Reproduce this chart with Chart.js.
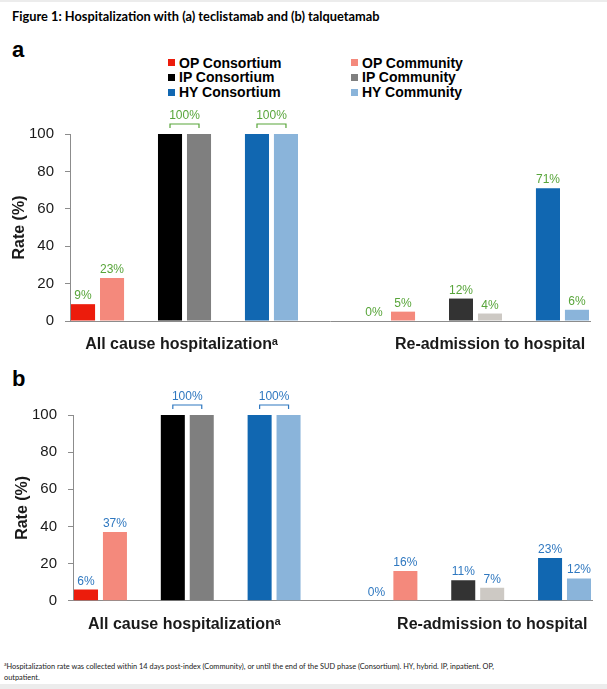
<!DOCTYPE html>
<html>
<head>
<meta charset="utf-8">
<script src="https://cdn.jsdelivr.net/npm/chart.js@4.4.1/dist/chart.umd.min.js"></script>
<style>
  html, body { margin: 0; padding: 0; background: #fff; }
  #page { position: relative; width: 607px; height: 689px; overflow: hidden; font-family: "Liberation Sans", Arial, sans-serif; color: #000; }
  .strip { position: absolute; left: 0; width: 607px; background: #ececec; }
  #title { position: absolute; left: 12px; top: 9px; font: bold 12.8px Lato, sans-serif; line-height: 1.2; white-space: nowrap; }
  .panel { position: absolute; left: 12px; font: bold 22px "Liberation Sans", Arial, sans-serif; line-height: 22px; }
  .item { position: absolute; display: flex; align-items: center; height: 15px; font: bold 14px "Liberation Sans", Arial, sans-serif; white-space: nowrap; }
  .box { width: 7px; height: 7px; margin-right: 4px; }
  .wrap { position: absolute; left: 0; width: 607px; height: 260px; }
  #foot { position: absolute; left: 4px; top: 659px; width: 500px; font: 7.4px Lato, sans-serif; line-height: 11px; color: #222; }
  #foot sup { font-size: 5px; vertical-align: 3px; }
</style>
</head>
<body>
<div id="page">
  <div class="strip" style="top:0;height:2px"></div>
  <div class="strip" style="top:684px;height:5px"></div>
  <div id="title">Figure 1: Hospitalization with (a) teclistamab and (b) talquetamab</div>
  <div class="panel" style="top:39px">a</div>
  <div id="legend"></div>
  <div class="wrap" style="top:96px"><canvas id="chartA"></canvas></div>
  <div class="panel" style="top:368px">b</div>
  <div class="wrap" style="top:377px"><canvas id="chartB"></canvas></div>
  <div id="foot"><sup>a</sup>Hospitalization rate was collected within 14 days post-index (Community), or until the end of the SUD phase (Consortium). HY, hybrid. IP, inpatient. OP, outpatient.</div>
</div>
<script>
// groups on the x axis
const categories = ['All cause hospitalization\u1d43', 'Re-admission to hospital'];
const seriesNames = ['OP Consortium', 'OP Community', 'IP Consortium', 'IP Community', 'HY Consortium', 'HY Community'];
const yTicks = [0, 20, 40, 60, 80, 100];

// (a) teclistamab, values per group (%)
const tecOpConsortium = [9, 0];
const tecOpCommunity = [23, 5];
const tecIpConsortium = [100, 12];
const tecIpCommunity = [100, 4];
const tecHyConsortium = [100, 71];
const tecHyCommunity = [100, 6];

// (b) talquetamab
const talOpConsortium = [6, 0];
const talOpCommunity = [37, 16];
const talIpConsortium = [100, 11];
const talIpCommunity = [100, 7];
const talHyConsortium = [100, 23];
const talHyCommunity = [100, 12];

// colour per series, per group (IP bars are lighter in the second group)
const seriesColors = [
    ['#ec1c0c', '#ec1c0c'],
    ['#f4897c', '#f4897c'],
    ['#000000', '#333333'],
    ['#7f7f7f', '#cdc9c4'],
    ['#1167b1', '#1167b1'],
    ['#8ab4da', '#8ab4da']
];

// the second group label sits a little right of the bars in the original
const labelShift = [-0.01, 0.05];

// legend (two columns, three rows)
let legend = document.getElementById('legend');
let colX = [168, 351];
let rowY = [55, 69.5, 84.5];
seriesNames.forEach((name, i) => {
    let item = document.createElement('div');
    item.className = 'item';
    item.style.left = colX[i % 2] + 'px';
    item.style.top = rowY[Math.floor(i / 2)] + 'px';
    item.innerHTML = `<span class="box" style="background:${seriesColors[i][0]}"></span>${name}`;
    legend.appendChild(item);
});

function buildDatasets(values) {
    let sets = [];
    values.forEach((v, i) => {
        if (i > 0 && i % 2 === 0) {
            // empty slot between the OP / IP / HY pairs
            sets.push({label: '', spacer: true, data: categories.map((c, g) => ({x: g, y: null}))});
        }
        sets.push({
            label: seriesNames[i],
            data: v.map((y, g) => ({x: g, y: y})),
            backgroundColor: seriesColors[i],
            borderWidth: 0
        });
    });
    return sets;
}

const valueLabels = {
    id: 'valueLabels',
    afterDatasetsDraw(chart, args, opts) {
        const ctx = chart.ctx;
        const sets = chart.data.datasets;
        let real = sets.map((d, i) => i).filter(i => !sets[i].spacer);
        ctx.save();
        ctx.font = '12px "Liberation Sans", Arial, sans-serif';
        ctx.fillStyle = opts.color;
        ctx.strokeStyle = opts.color;
        ctx.lineWidth = 1.2;
        ctx.textAlign = 'center';
        ctx.textBaseline = 'alphabetic';
        for (let p = 0; p < real.length; p += 2) {
            let m1 = chart.getDatasetMeta(real[p]);
            let m2 = chart.getDatasetMeta(real[p + 1]);
            m1.data.forEach((bar1, g) => {
                let bar2 = m2.data[g];
                let v1 = sets[real[p]].data[g].y;
                let v2 = sets[real[p + 1]].data[g].y;
                if (v1 === v2) {
                    // same value for both settings: one label over a bracket
                    let top = Math.min(bar1.y, bar2.y) - 10;
                    ctx.beginPath();
                    ctx.moveTo(bar1.x, top + 4);
                    ctx.lineTo(bar1.x, top);
                    ctx.lineTo(bar2.x, top);
                    ctx.lineTo(bar2.x, top + 4);
                    ctx.stroke();
                    ctx.fillText(v1 + '%', (bar1.x + bar2.x) / 2, top - 5);
                } else {
                    ctx.fillText(v1 + '%', bar1.x, bar1.y - 5);
                    ctx.fillText(v2 + '%', bar2.x, bar2.y - 5);
                }
            });
        }
        ctx.restore();
    }
};

function makeChart(id, values, labelColor, padding, xHeight) {
    let ctx = document.getElementById(id).getContext('2d');
    return new Chart(ctx, {
        type: 'bar',
        data: {datasets: buildDatasets(values)},
        plugins: [valueLabels],
        options: {
            responsive: true,
            maintainAspectRatio: false,
            animation: false,
            categoryPercentage: 0.797,
            barPercentage: 0.83,
            layout: {padding: padding},
            scales: {
                x: {
                    type: 'linear',
                    offset: false,
                    bounds: 'data',
                    min: -0.3935,
                    max: 1.3935,
                    afterBuildTicks: s => { s.ticks = categories.map((c, i) => ({value: i + labelShift[i]})); },
                    afterFit: s => { s.height = xHeight; },
                    grid: {display: true, offset: false, drawOnChartArea: false, drawTicks: false},
                    border: {color: '#8c8c8c'},
                    ticks: {
                        callback: (v, i) => categories[i],
                        autoSkip: false,
                        maxRotation: 0,
                        padding: 14,
                        color: '#1a1a1a',
                        font: {family: '"Liberation Sans", Arial, sans-serif', size: 16, weight: 'bold'}
                    }
                },
                y: {
                    min: 0,
                    max: 100,
                    afterBuildTicks: s => { s.ticks = yTicks.map(v => ({value: v})); },
                    afterFit: s => { s.width = 64; },
                    grid: {drawOnChartArea: false, tickLength: 5, color: '#8c8c8c'},
                    border: {color: '#8c8c8c'},
                    ticks: {
                        padding: 11,
                        color: '#1a1a1a',
                        font: {family: '"Liberation Sans", Arial, sans-serif', size: 15}
                    },
                    title: {
                        display: true,
                        text: 'Rate (%)',
                        color: '#1a1a1a',
                        padding: {top: 4, bottom: 4},
                        font: {family: '"Liberation Sans", Arial, sans-serif', size: 16, weight: 'bold'}
                    }
                }
            },
            plugins: {
                legend: {display: false},
                tooltip: {enabled: false},
                valueLabels: {color: labelColor}
            }
        }
    });
}

makeChart('chartA',
    [tecOpConsortium, tecOpCommunity, tecIpConsortium, tecIpCommunity, tecHyConsortium, tecHyCommunity],
    '#58a53a', {top: 38, left: 6, right: 17, bottom: 0}, 35);
makeChart('chartB',
    [talOpConsortium, talOpCommunity, talIpConsortium, talIpCommunity, talHyConsortium, talHyCommunity],
    '#2f78c0', {top: 38, left: 9, right: 15, bottom: 0}, 36.3);
</script>
</body>
</html>
